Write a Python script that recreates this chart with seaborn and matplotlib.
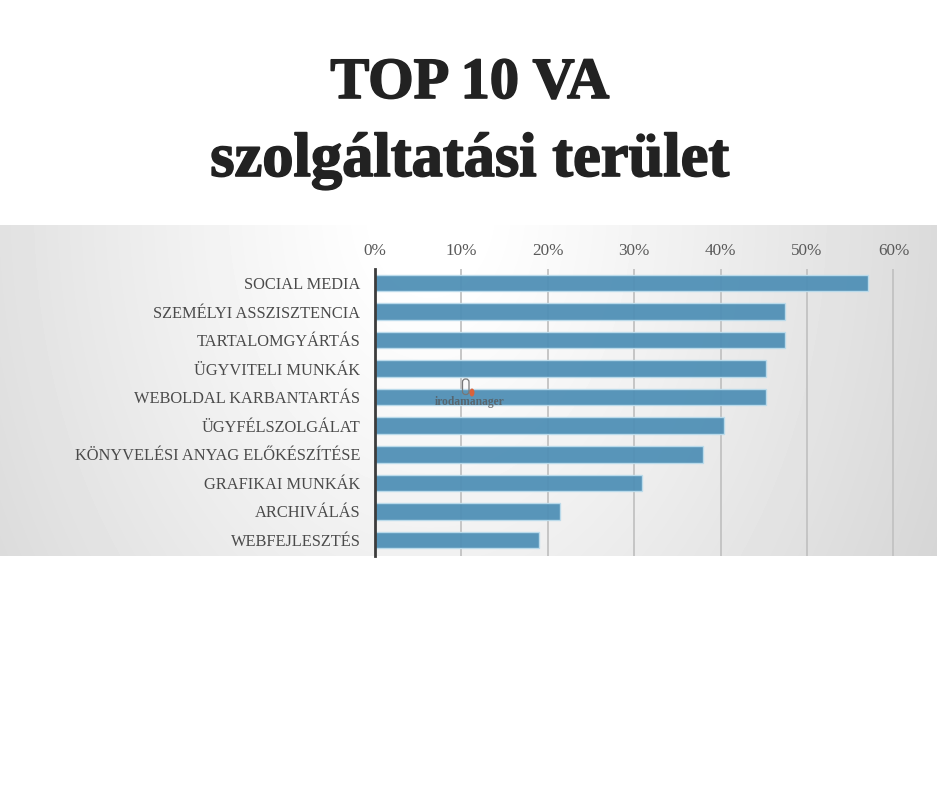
import numpy as np
import pandas as pd
import matplotlib
matplotlib.use("Agg")
import matplotlib.pyplot as plt
import matplotlib.patheffects as pe
from matplotlib.patches import FancyBboxPatch, Ellipse
import seaborn as sns

categories = ["SOCIAL MEDIA", "SZEMÉLYI ASSZISZTENCIA", "TARTALOMGYÁRTÁS", "ÜGYVITELI MUNKÁK",
              "WEBOLDAL KARBANTARTÁS", "ÜGYFÉLSZOLGÁLAT", "KÖNYVELÉSI ANYAG ELŐKÉSZÍTÉSE",
              "GRAFIKAI MUNKÁK", "ARCHIVÁLÁS", "WEBFEJLESZTÉS"]
values = [57.1, 47.5, 47.5, 45.2, 45.2, 40.4, 38.0, 30.9, 21.4, 19.0]
xticks = [0, 10, 20, 30, 40, 50, 60]
title_lines = ["TOP 10 VA", "szolgáltatási terület"]

W, H = 940, 788
sns.set_theme(style="white")
plt.rcParams["font.family"] = ["Liberation Serif", "DejaVu Serif"]
fig = plt.figure(figsize=(W / 100, H / 100), dpi=100, facecolor="white")

def box(x0, ytop, x1, ybot):
    return [x0 / W, 1 - ybot / H, (x1 - x0) / W, (ybot - ytop) / H]

# gradient panel
bg = fig.add_axes(box(0, 225, 937, 556), zorder=0)
yy, xx = np.mgrid[0:331, 0:937]
r = np.hypot((xx - 430) / 480, (yy + 20) / 680)
shade = np.clip(1.0 - 0.15 * np.clip(r - 0.10, 0, None) ** 1.1, 0, 1)
bg.imshow(shade, cmap="gray", vmin=0, vmax=1, aspect="auto", interpolation="bilinear")
bg.axis("off")

# chart
x0, x60 = 375, 893.5
ax = fig.add_axes(box(x0, 268.7, x60 + 0.5, 556), zorder=1)
ax.patch.set_alpha(0)
df = pd.DataFrame({"area": categories, "share": values})
sns.barplot(data=df, x="share", y="area", ax=ax, color="#5090b6", saturation=1,
            width=0.58, edgecolor="#bcdcec", linewidth=1.0, zorder=3, alpha=0.95)
ax.set_xlim(0, 60.06)
ax.set_ylim(9.56, -0.5)
ax.xaxis.tick_top()
ax.set_xticks(xticks, [f"{t}%" for t in xticks])
ax.set_xlabel("")
ax.set_ylabel("")
ax.tick_params(axis="x", length=0, pad=7, labelsize=12.3, labelcolor="#595959")
ax.tick_params(axis="y", length=0, pad=10.5, labelsize=11.8, labelcolor="#4a4a4a")
ax.grid(axis="x", color="#c2c2c2", lw=1.3, zorder=1)
ax.set_axisbelow(True)
for s in ["top", "right", "bottom"]:
    ax.spines[s].set_visible(False)
ax.spines["left"].set_color("#3c3c3c")
ax.spines["left"].set_linewidth(2)
ax.spines["left"].set_zorder(5)

# overlay axes in pixel coordinates for watermark
ov = fig.add_axes([0, 0, 1, 1], zorder=2)
ov.set_xlim(0, W)
ov.set_ylim(H, 0)
ov.axis("off")
ov.add_patch(FancyBboxPatch((462.5, 379), 6.5, 15.5, boxstyle="round,pad=0,rounding_size=3",
                            fc="none", ec="#777777", lw=0.9))
ov.add_patch(Ellipse((472, 392.5), 5, 8, fc="#d9623a", ec="none"))
ov.text(469.5, 402, "irodamanager", ha="center", va="center", fontsize=8.3,
        fontweight="bold", color="#555555", alpha=0.75)

# titles
for text, y, size in zip(title_lines, [84, 161], [42, 45]):
    fig.text(470 / W, 1 - y / H, text, ha="center", va="center", fontsize=size,
             fontweight="bold", color="#222222",
             path_effects=[pe.withStroke(linewidth=1.2, foreground="#222222")])

fig.savefig("out.png", dpi=100, facecolor="white")
